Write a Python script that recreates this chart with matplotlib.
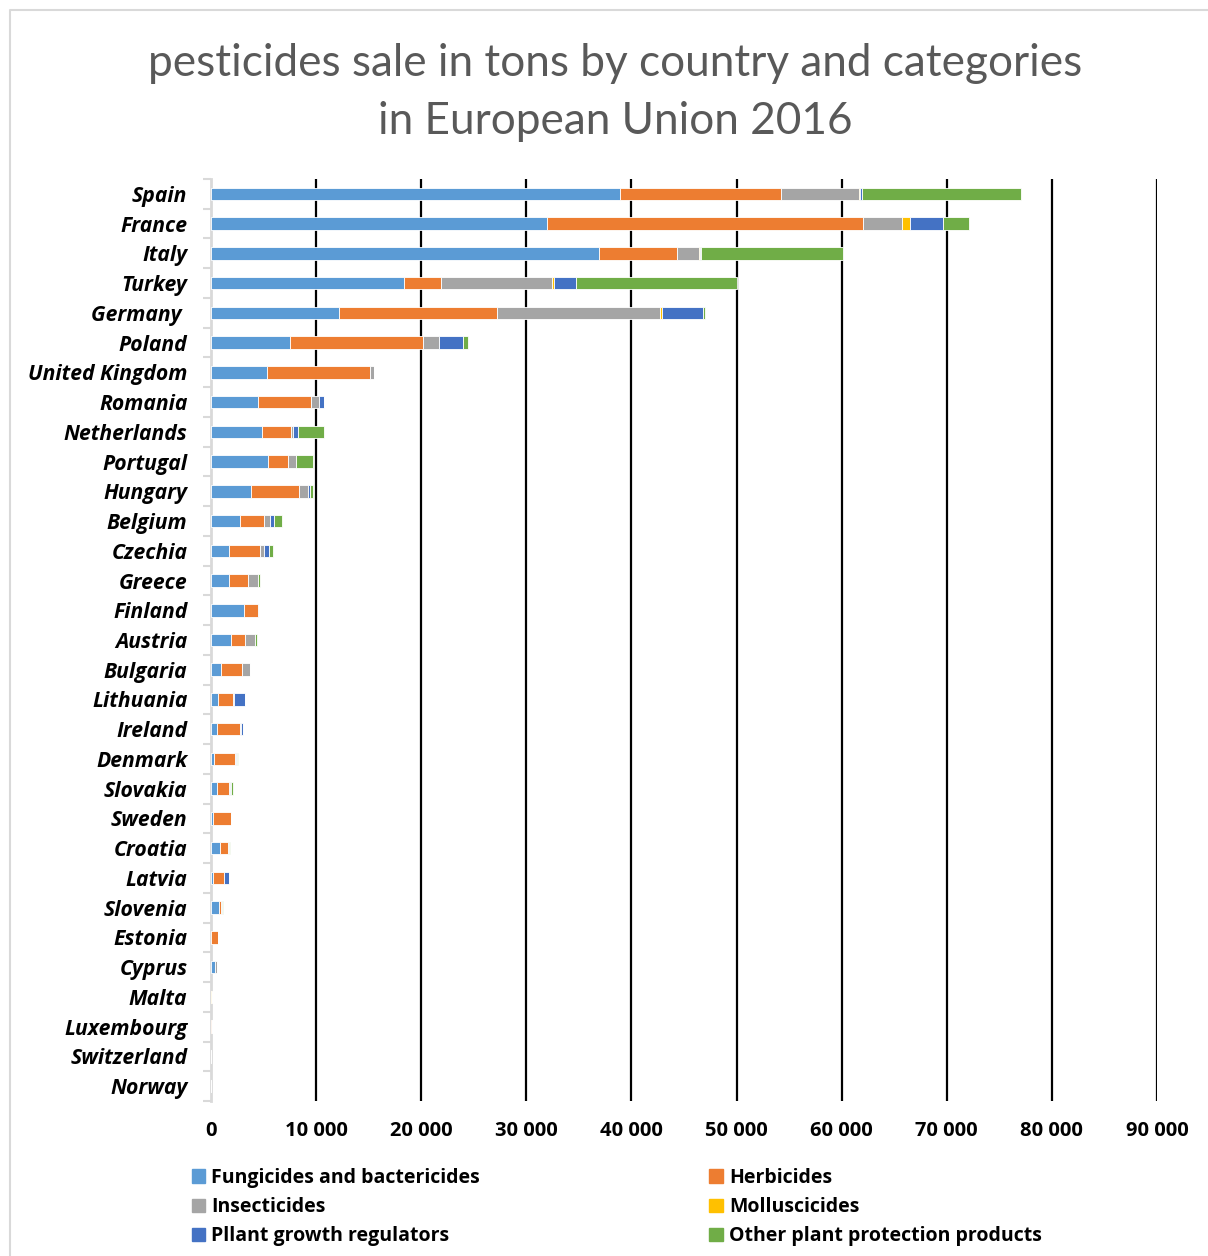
import numpy as np
import matplotlib.pyplot as plt
from matplotlib.lines import Line2D
from matplotlib.patches import Patch
from matplotlib.ticker import FuncFormatter, FixedLocator

plt.rcParams['font.family'] = ['Open Sans', 'DejaVu Sans']

countries = ['Spain', 'France', 'Italy', 'Turkey', 'Germany ', 'Poland', 'United Kingdom',
             'Romania', 'Netherlands', 'Portugal', 'Hungary', 'Belgium', 'Czechia', 'Greece',
             'Finland', 'Austria', 'Bulgaria', 'Lithuania', 'Ireland', 'Denmark', 'Slovakia',
             'Sweden', 'Croatia', 'Latvia', 'Slovenia', 'Estonia', 'Cyprus', 'Malta',
             'Luxembourg', 'Switzerland', 'Norway']

# tons sold
fungicides = [38900, 31940, 36900, 18370, 12140, 7550, 5290, 4460, 4810, 5380, 3790, 2800, 1750,
              1750, 3180, 1940, 950, 630, 540, 320, 540, 190, 890, 190, 760, 30, 350, 20, 30, 0, 0]
herbicides = [15300, 30100, 7400, 3470, 15050, 12650, 9840, 5060, 2770, 1910, 4550, 2230, 2870,
              1750, 1280, 1280, 2030, 1470, 2190, 1930, 1140, 1680, 700, 1020, 220, 600, 60, 20, 20, 0, 0]
insecticides = [7450, 3670, 2140, 10560, 15510, 1530, 350, 800, 250, 830, 900, 580, 410, 930, 90,
                980, 700, 90, 130, 130, 100, 70, 160, 50, 80, 20, 160, 0, 10, 0, 0]
molluscicides = [100, 770, 50, 200, 210, 0, 0, 0, 0, 0, 0, 0, 0, 0, 0, 0, 0, 0, 0, 0, 0, 0, 0,
                 0, 0, 0, 0, 30, 0, 0, 0]
growth_reg = [150, 3160, 150, 2090, 3930, 2200, 0, 440, 450, 0, 190, 350, 450, 60, 0, 0, 0, 1080,
              190, 130, 160, 0, 0, 420, 0, 0, 0, 0, 0, 0, 0]
other = [15200, 2500, 13470, 15360, 200, 510, 0, 0, 2480, 1630, 320, 790, 380, 190, 0, 130, 0, 0,
         0, 90, 120, 0, 90, 0, 50, 0, 0, 40, 0, 0, 0]

names = ['Fungicides and bactericides', 'Herbicides', 'Insecticides', 'Molluscicides',
         'Pllant growth regulators', 'Other plant protection products']
series = [fungicides, herbicides, insecticides, molluscicides, growth_reg, other]
colors = ['#5B9BD5', '#ED7D31', '#A5A5A5', '#FFC000', '#4472C4', '#70AD47']

W, H = 1208, 1256
fig = plt.figure(figsize=(W / 100, H / 100), dpi=100)
ax = fig.add_axes([211 / W, 1 - 1101 / H, (1157 - 211) / W, (1101 - 179) / H])

y = np.arange(len(countries))
left = np.zeros(len(countries))
for vals, col, name in zip(series, colors, names):
    ax.barh(y, vals, left=left, height=0.42, color=col, edgecolor='white',
            linewidth=0.6, label=name, zorder=3)
    left += np.array(vals)

ax.set_ylim(len(countries) - 0.5, -0.5)
ax.set_xlim(0, 90000)
ax.set_xticks(range(0, 90001, 10000))
ax.xaxis.set_major_formatter(FuncFormatter(lambda v, p: f'{int(v):,}'.replace(',', ' ')))
ax.grid(axis='x', color='black', linewidth=1.6, zorder=0)
ax.get_xgridlines()[0].set_visible(False)
ax.tick_params(axis='x', length=0, pad=14.5)
for lab in ax.get_xticklabels():
    lab.set_fontsize(14.5)
    lab.set_fontweight('bold')

ax.set_yticks(y)
ax.set_yticklabels(countries, fontsize=15.2, fontweight='bold', fontstyle='italic')
ax.yaxis.set_minor_locator(FixedLocator(np.arange(-0.5, len(countries), 1)))
ax.tick_params(axis='y', which='major', length=0, pad=17)
ax.tick_params(axis='y', which='minor', length=6, width=1.5, color='#D9D9D9')

for s in ['top', 'right', 'bottom']:
    ax.spines[s].set_visible(False)
ax.spines['left'].set_color('#D9D9D9')
ax.spines['left'].set_linewidth(2)

fig.text(615 / W, 1 - 63 / H, 'pesticides sale in tons by country and categories',
         ha='center', va='center', fontsize=31.8, color='#595959', family=['Lato'])
fig.text(615 / W, 1 - 122 / H, 'in European Union 2016',
         ha='center', va='center', fontsize=31.8, color='#595959', family=['Lato'])

# legend filled row by row like the original
handles = [Patch(color=c, label=n) for c, n in zip(colors, names)]
order = [0, 2, 4, 1, 3, 5]
fig.legend([handles[i] for i in order], [names[i] for i in order], ncol=2,
           loc='upper left', bbox_to_anchor=(184 / W, 1 - 1160 / H), frameon=False,
           prop={'weight': 'bold', 'size': 14}, handlelength=0.7, handleheight=0.7,
           handletextpad=0.3, columnspacing=11.8, labelspacing=0.48, borderaxespad=0)

fig.add_artist(Line2D([10 / W, 10 / W, 1], [0, 1 - 10 / H, 1 - 10 / H],
                      color='#D9D9D9', linewidth=1.5))

fig.savefig('out.png', dpi=100, facecolor='white')
